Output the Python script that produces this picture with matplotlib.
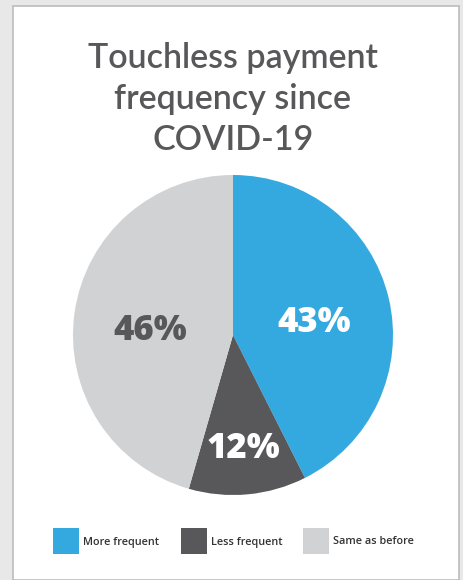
import matplotlib.pyplot as plt
import matplotlib.patches as mpatches
import numpy as np

# data
categories = ['More frequent', 'Less frequent', 'Same as before']
shares = [43, 12, 46]
pct_labels = ['43%', '12%', '46%']
colors = ['#33a9e0', '#58585a', '#d1d2d4']
label_colors = ['white', 'white', '#58585a']
label_radius = [0.52, 0.67, 0.52]

W, H = 464, 580
fig = plt.figure(figsize=(W / 100, H / 100), dpi=100)
fig.patch.set_facecolor('#e8e8e8')

# white card behind everything
card = mpatches.Rectangle((13 / W, 0), (459 - 13) / W, (580 - 6) / H,
                          transform=fig.transFigure, facecolor='white',
                          edgecolor='#bcbcbc', linewidth=1.2, zorder=-10)
fig.patches.append(card)

# title
title_lines = ['Touchless payment', 'frequency since', 'COVID-19']
for i, line in enumerate(title_lines):
    fig.text(233 / W, 1 - (58 + 41 * i) / H, line, ha='center', va='center',
             fontsize=24.5, family='Lato', fontweight='semibold',
             color='#58585a')

# pie
cx, cy, r = 233, 335, 160
ax = fig.add_axes([(cx - r) / W, (H - cy - r) / H, 2 * r / W, 2 * r / H])
ax.patch.set_visible(False)
wedges, _ = ax.pie(shares, colors=colors, startangle=90, counterclock=False,
                   radius=1, wedgeprops=dict(linewidth=0))
ax.set_xlim(-1, 1)
ax.set_ylim(-1, 1)
ax.set_aspect('auto')
ax.axis('off')

for w, txt, col, rr in zip(wedges, pct_labels, label_colors, label_radius):
    ang = np.deg2rad((w.theta1 + w.theta2) / 2)
    ax.text(rr * np.cos(ang), rr * np.sin(ang) - 0.045, txt, ha='center',
            va='center', fontsize=25, fontweight='heavy', family='Open Sans',
            color=col)

# legend
sq = 26
xs = [53, 181, 303]
for x, cat, col in zip(xs, categories, colors):
    fig.patches.append(mpatches.Rectangle((x / W, 1 - 554 / H), sq / W, sq / H,
                                          transform=fig.transFigure,
                                          facecolor=col, edgecolor='none'))
    fig.text((x + sq + 4) / W, 1 - 542 / H, cat, ha='left', va='center',
             fontsize=7.8, fontweight='semibold', family='Open Sans',
             color='#333333')

fig.savefig('out.png', dpi=100, facecolor=fig.get_facecolor())
